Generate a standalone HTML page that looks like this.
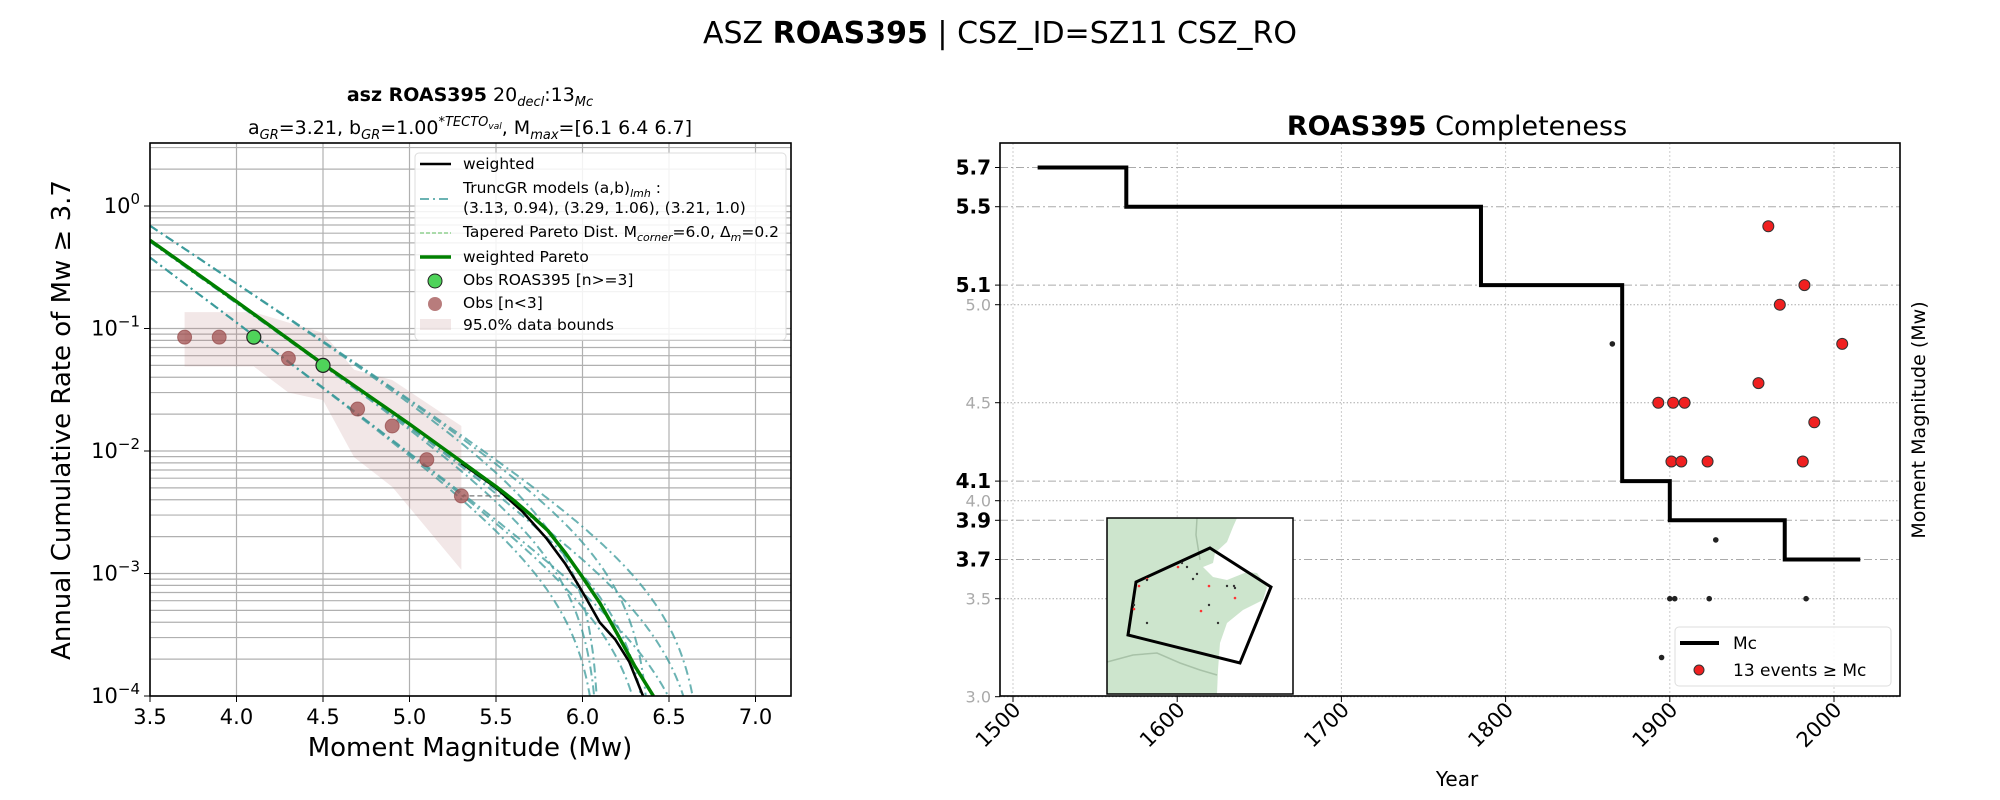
<!DOCTYPE html>
<html><head><meta charset="utf-8"><style>
html,body{margin:0;padding:0;background:#fff;width:2000px;height:800px;overflow:hidden;}
svg{display:block;font-family:"DejaVu Sans","Liberation Sans",sans-serif;}
</style></head><body>
<svg id="fig" width="2000" height="800" viewBox="0 0 2000 800" xmlns="http://www.w3.org/2000/svg">
<rect width="2000" height="800" fill="#fff"/>
<text x="1000" y="43" text-anchor="middle" font-size="30">ASZ <tspan font-weight="bold">ROAS395</tspan> | CSZ_ID=SZ11 CSZ_RO</text>
<text x="470" y="101" text-anchor="middle" font-size="19"><tspan font-weight="bold">asz ROAS395</tspan>  20<tspan font-size="13" dy="5" font-style="italic">decl</tspan><tspan dy="-5">:13</tspan><tspan font-size="13" dy="5" font-style="italic">Mc</tspan></text>
<text x="470" y="134" text-anchor="middle" font-size="19">a<tspan font-size="13" dy="5" font-style="italic">GR</tspan><tspan dy="-5">=3.21,  b</tspan><tspan font-size="13" dy="5" font-style="italic">GR</tspan><tspan dy="-5">=1.00</tspan><tspan font-size="13" dy="-8" font-style="italic">*TECTO</tspan><tspan font-size="9" dy="3" font-style="italic">val</tspan><tspan dy="5">, M</tspan><tspan font-size="13" dy="5" font-style="italic">max</tspan><tspan dy="-5">=[6.1 6.4 6.7]</tspan></text>
<g id="left"></g>
<g id="right"></g>
</svg>
<script>
const NS='http://www.w3.org/2000/svg';
function mk(p,t,a){const e=document.createElementNS(NS,t);for(const k in a)e.setAttribute(k,a[k]);p.appendChild(e);return e;}

// ---------- Left chart data ----------
const obsMagGreen=[4.1,4.5];
const obsRateGreen=[0.085,0.050];
const obsMagBrown=[3.7,3.9,4.3,4.7,4.9,5.1,5.3];
const obsRateBrown=[0.085,0.085,0.057,0.022,0.016,0.0085,0.0043];
const boundMagUpper=[3.7,4.1,4.5,4.68,4.9,5.3];
const boundRateUpper=[0.136,0.136,0.092,0.046,0.038,0.016];
const boundMagLower=[3.7,4.1,4.3,4.5,4.68,4.9,5.3];
const boundRateLower=[0.049,0.049,0.030,0.026,0.0089,0.0051,0.00107];
const modelA=[3.13,3.29,3.21];
const modelB=[0.94,1.06,1.0];
const modelMmax=[6.1,6.4,6.7];
const paretoMag=[3.5,4.0,4.5,5.0,5.5,5.6,5.7,5.8,5.9,6.0,6.1,6.2,6.3,6.41];
const paretoLogRate=[-0.28,-0.78,-1.29,-1.78,-2.29,-2.40,-2.52,-2.65,-2.83,-3.03,-3.24,-3.49,-3.75,-4.0];
const weightedMag=[5.3,5.5,5.65,5.79,5.9,5.97,6.02,6.1,6.19,6.27,6.35];
const weightedLogRate=[-2.1,-2.30,-2.49,-2.71,-2.92,-3.08,-3.2,-3.40,-3.54,-3.72,-4.0];
const xTicksL=[3.5,4.0,4.5,5.0,5.5,6.0,6.5,7.0];
const yDecadesL=[0,-1,-2,-3,-4];

// ---------- Right chart data ----------
const mcYears=[1515,1569,1785,1871,1900,1970,2016];
const mcValues=[5.7,5.5,5.1,4.1,3.9,3.7];
const evYears=[1960,1982,1967,2005,1954,1893,1902,1909,1988,1901,1907,1923,1981];
const evMags=[5.4,5.1,5.0,4.8,4.6,4.5,4.5,4.5,4.4,4.2,4.2,4.2,4.2];
const smallYears=[1865,1928,1900,1903,1924,1983,1895];
const smallMags=[4.8,3.8,3.5,3.5,3.5,3.5,3.2];
const yearTicks=[1500,1600,1700,1800,1900,2000];
const boldTicks=[5.7,5.5,5.1,4.1,3.9,3.7];
const grayTicks=[3.0,3.5,4.0,4.5,5.0];

// ---------- Left chart ----------
const L=document.getElementById('left');
const LX0=150,LX1=791,LY0=143,LY1=696;
const xL=m=>150+(m-3.5)*173;
const yL=lg=>206-lg*122.5;
const yR=r=>yL(Math.log10(r));
mk(L,'rect',{x:LX0,y:LY0,width:LX1-LX0,height:LY1-LY0,fill:'#fff'});
const gridL=mk(L,'g',{stroke:'#b0b0b0','stroke-width':1.2});


for(const t of xTicksL) mk(gridL,'line',{x1:xL(t),x2:xL(t),y1:LY0,y2:LY1});
for(let d=-4;d<=0;d++){for(let k=1;k<=9;k++){const y=yL(d+Math.log10(k));if(y>LY0&&y<=LY1)mk(gridL,'line',{x1:LX0,x2:LX1,y1:y,y2:y});}}
let bp='';
boundMagUpper.forEach((m,i)=>bp+=(i?'L':'M')+xL(m)+','+yR(boundRateUpper[i]));
for(let i=boundMagLower.length-1;i>=0;i--) bp+='L'+xL(boundMagLower[i])+','+yR(boundRateLower[i]);
const bnd=mk(L,'path',{d:bp+'Z',fill:'#b97a7a','fill-opacity':0.18});


const clip=mk(L,'clipPath',{id:'clipL'});mk(clip,'rect',{x:LX0,y:LY0,width:LX1-LX0,height:LY1-LY0});
const cg=mk(L,'g',{'clip-path':'url(#clipL)'});
modelA.forEach((a,i)=>{const b=modelB[i];modelMmax.forEach(mx=>{
  let d='';for(let m=3.5;m<mx;m+=0.01){const r=Math.pow(10,a)*(Math.pow(10,-b*m)-Math.pow(10,-b*mx));if(r<=0)break;d+=(d?'L':'M')+xL(m).toFixed(1)+','+yR(r).toFixed(1);}
  const p=mk(cg,'path',{d:d,fill:'none',stroke:'#3a9a9a','stroke-opacity':0.75,'stroke-width':2,'stroke-dasharray':'9,4,2,4'});
  
  
});});
const gc=mk(cg,'line',{x1:xL(5.3),x2:xL(5.52),y1:yR(0.0043),y2:yR(0.0043),stroke:'#777','stroke-dasharray':'5,3','stroke-width':1.3});


function lineFrom(ms,ls){return ms.map((m,i)=>(i?'L':'M')+xL(m)+','+yL(ls[i])).join('');}
const wl=mk(cg,'path',{d:lineFrom(weightedMag,weightedLogRate),fill:'none',stroke:'#000','stroke-width':2.6,'stroke-linejoin':'round'});


const pl=mk(cg,'path',{d:lineFrom(paretoMag,paretoLogRate),fill:'none',stroke:'#008000','stroke-width':3.5,'stroke-linejoin':'round'});


obsMagBrown.forEach((m,i)=>{const c=mk(L,'circle',{cx:xL(m),cy:yR(obsRateBrown[i]),r:7,fill:'#a05050','fill-opacity':0.75,stroke:'#8b3a3a','stroke-opacity':0.6});
  
  });
obsMagGreen.forEach((m,i)=>{const c=mk(L,'circle',{cx:xL(m),cy:yR(obsRateGreen[i]),r:7,fill:'#4fd35a',stroke:'#222','stroke-width':1.2});
  
  });
mk(L,'rect',{x:LX0,y:LY0,width:LX1-LX0,height:LY1-LY0,fill:'none',stroke:'#000','stroke-width':1.6});
for(const t of xTicksL){mk(L,'line',{x1:xL(t),x2:xL(t),y1:LY1,y2:LY1+6,stroke:'#000'});
  const tx=mk(L,'text',{x:xL(t),y:LY1+28,'text-anchor':'middle','font-size':21});tx.textContent=t.toFixed(1);
  
  }
for(const d of yDecadesL){const y=yL(d);mk(L,'line',{x1:LX0-6,x2:LX0,y1:y,y2:y,stroke:'#000'});
  const tx=mk(L,'text',{x:LX0-10,y:y+7,'text-anchor':'end','font-size':21});tx.innerHTML='10<tspan font-size="15" dy="-9">'+(d===0?'0':'\u2212'+(-d))+'</tspan>';
  
  }
const xlab=mk(L,'text',{x:470,y:756,'text-anchor':'middle','font-size':26});xlab.textContent='Moment Magnitude (Mw)';


const ylab=mk(L,'text',{x:0,y:0,'text-anchor':'middle','font-size':26,transform:'translate(70,420) rotate(-90)'});ylab.textContent='Annual Cumulative Rate of Mw  \u2265  3.7';


const lg=mk(L,'g',{'font-size':15.5});


mk(lg,'rect',{x:415,y:153,width:371,height:187,rx:4,fill:'#fff','fill-opacity':0.85,stroke:'#ddd'});
function lt(y,s){const t=mk(lg,'text',{x:463,y:y+5});t.innerHTML=s;return t;}
mk(lg,'line',{x1:420,x2:451,y1:164,y2:164,stroke:'#000','stroke-width':2.6});lt(164,'weighted');
mk(lg,'line',{x1:420,x2:451,y1:199,y2:199,stroke:'#3a9a9a','stroke-opacity':0.75,'stroke-width':2,'stroke-dasharray':'9,4,2,4'});
lt(188,'TruncGR models (a,b)<tspan font-size="11" dy="4" font-style="italic">lmh</tspan><tspan dy="-4"> :</tspan>');lt(208,' (3.13, 0.94), (3.29, 1.06), (3.21, 1.0)');
mk(lg,'line',{x1:420,x2:451,y1:233,y2:233,stroke:'#8fd08f','stroke-width':1.5,'stroke-dasharray':'4,2'});
lt(232,'Tapered Pareto Dist. M<tspan font-size="11" dy="4" font-style="italic">corner</tspan><tspan dy="-4">=6.0, Δ</tspan><tspan font-size="11" dy="4" font-style="italic">m</tspan><tspan dy="-4">=0.2</tspan>');
mk(lg,'line',{x1:420,x2:451,y1:257,y2:257,stroke:'#008000','stroke-width':3.5});lt(257,'weighted Pareto');
mk(lg,'circle',{cx:435,cy:281,r:7,fill:'#4fd35a',stroke:'#222'});lt(280,'Obs ROAS395 [n&gt;=3]');
mk(lg,'circle',{cx:435,cy:304,r:7,fill:'#a05050','fill-opacity':0.75});lt(303,'Obs [n&lt;3]');
mk(lg,'rect',{x:420,y:319,width:31,height:11,fill:'#b97a7a','fill-opacity':0.18});lt(325,'95.0% data bounds');

// ---------- Right chart ----------
const R=document.getElementById('right');
const RX0=1000,RX1=1900,RY0=143,RY1=696;
const xY=yr=>1013+(yr-1500)*1.642;
const yM=v=>304.7+(5-v)*196;
mk(R,'rect',{x:RX0,y:RY0,width:RX1-RX0,height:RY1-RY0,fill:'#fff'});
for(const t of yearTicks) mk(R,'line',{x1:xY(t),x2:xY(t),y1:RY0,y2:RY1,stroke:'#ccc','stroke-dasharray':'2,2'});
for(const t of grayTicks) mk(R,'line',{x1:RX0,x2:RX1,y1:yM(t),y2:yM(t),stroke:'#aaa','stroke-dasharray':'1.5,2'});
for(const t of boldTicks) mk(R,'line',{x1:RX0,x2:RX1,y1:yM(t),y2:yM(t),stroke:'#aaa','stroke-dasharray':'8,3,2,3'});
const ins=mk(R,'g',{});


mk(ins,'rect',{x:1107,y:518,width:186,height:176,fill:'#cde5cd'});
mk(ins,'path',{d:'M1237,518 L1293,518 L1293,694 L1217,694 L1218,670 L1220,643 L1227,623 L1243,610 L1263,600 L1267,587 L1257,573 L1247,572 L1227,580 L1213,577 L1203,567 L1213,563 L1215,553 L1227,542 L1233,527 Z',fill:'#fff'});
mk(ins,'path',{d:'M1107,662 L1133,655 L1157,653 L1180,663 L1200,670 L1217,675',fill:'none',stroke:'#a8c2a8','stroke-width':1.5});
mk(ins,'path',{d:'M1197,518 L1196,535 L1200,560',fill:'none',stroke:'#a8c2a8','stroke-width':1.5});
mk(ins,'path',{d:'M1210,548 L1271,587 L1240,663 L1128,635 L1136,582 Z',fill:'none',stroke:'#000','stroke-width':3});
[[1178,567],[1147,579],[1139,586],[1209,586],[1235,598],[1134,609],[1201,611]].forEach(p=>mk(ins,'circle',{cx:p[0],cy:p[1],r:1.3,fill:'#f33'}));
[[1182,563],[1187,567],[1197,574],[1193,579],[1147,580],[1227,586],[1234,586],[1235,588],[1209,605],[1147,623],[1218,623],[1134,605]].forEach(p=>mk(ins,'circle',{cx:p[0],cy:p[1],r:1.2,fill:'#333'}));
mk(ins,'rect',{x:1107,y:518,width:186,height:176,fill:'none',stroke:'#000','stroke-width':1.5});
let sp='';
mcValues.forEach((v,i)=>{sp+=(i?'L':'M')+xY(mcYears[i])+','+yM(v)+'L'+xY(mcYears[i+1])+','+yM(v);});
const mcl=mk(R,'path',{d:sp,fill:'none',stroke:'#000','stroke-width':4});


smallYears.forEach((yr,i)=>{const c=mk(R,'circle',{cx:xY(yr),cy:yM(smallMags[i]),r:2.8,fill:'#222'});
  
  });
evYears.forEach((yr,i)=>{const c=mk(R,'circle',{cx:xY(yr),cy:yM(evMags[i]),r:5.5,fill:'#f02020',stroke:'#333','stroke-width':1});
  
  });
mk(R,'rect',{x:RX0,y:RY0,width:RX1-RX0,height:RY1-RY0,fill:'none',stroke:'#000','stroke-width':1.6});
for(const t of yearTicks){const x=xY(t);mk(R,'line',{x1:x,x2:x,y1:RY1,y2:RY1+6,stroke:'#000'});
  const tx=mk(R,'text',{x:0,y:0,'text-anchor':'end','font-size':21,transform:'translate('+(x+9)+','+(RY1+15)+') rotate(-45)'});tx.textContent=t;
  
  }
for(const t of grayTicks){const y=yM(t);mk(R,'line',{x1:RX0-5,x2:RX0,y1:y,y2:y,stroke:'#000'});
  const tx=mk(R,'text',{x:RX0-9,y:y+6,'text-anchor':'end','font-size':16,fill:'#aaa'});tx.textContent=t.toFixed(1);
  
  }
for(const t of boldTicks){const y=yM(t);mk(R,'line',{x1:RX0-5,x2:RX0,y1:y,y2:y,stroke:'#000'});
  const tx=mk(R,'text',{x:RX0-9,y:y+7,'text-anchor':'end','font-size':20,'font-weight':'bold'});tx.textContent=t.toFixed(1);
  
  }
const rt=mk(R,'text',{x:1457,y:135,'text-anchor':'middle','font-size':27});rt.innerHTML='<tspan font-weight="bold">ROAS395</tspan> Completeness';


const rx=mk(R,'text',{x:1457,y:786,'text-anchor':'middle','font-size':20});rx.textContent='Year';


const ry=mk(R,'text',{x:0,y:0,'text-anchor':'middle','font-size':19,transform:'translate(1925,420) rotate(-90)'});ry.textContent='Moment Magnitude (Mw)';


const rl=mk(R,'g',{'font-size':17});


mk(rl,'rect',{x:1675,y:627,width:216,height:59,rx:4,fill:'#fff','fill-opacity':0.85,stroke:'#ddd'});
mk(rl,'line',{x1:1680,x2:1719,y1:643,y2:643,stroke:'#000','stroke-width':4});
const l1=mk(rl,'text',{x:1733,y:649});l1.textContent='Mc';

mk(rl,'circle',{cx:1699,cy:670,r:5,fill:'#f02020',stroke:'#333'});
const l2=mk(rl,'text',{x:1733,y:676});l2.textContent='13 events \u2265 Mc';

</script>
</body></html>
